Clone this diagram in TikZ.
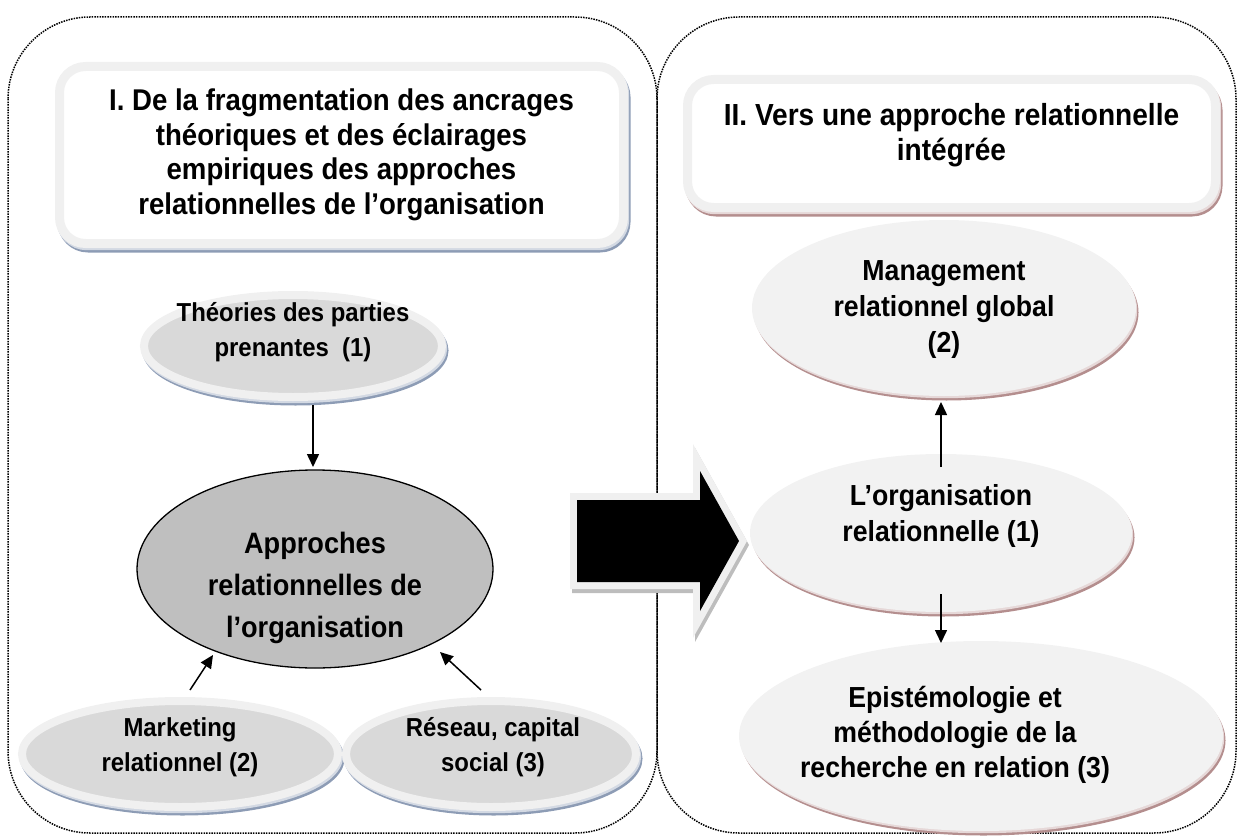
\documentclass[tikz,border=0pt]{standalone}
\usepackage{fontspec}
\setmainfont{Liberation Sans}[FakeStretch=0.92]
\usetikzlibrary{calc,arrows.meta,shapes.geometric}

\definecolor{rimgray}{HTML}{F0F0F0}
\definecolor{softgray}{HTML}{D9D9D9}
\definecolor{midgray}{HTML}{BFBFBF}
\definecolor{paleface}{HTML}{F2F2F2}
\definecolor{blueshade}{HTML}{8D9CB5}
\definecolor{bluelight}{HTML}{D3D9E3}
\definecolor{roseshade}{HTML}{B48E8E}
\definecolor{roselight}{HTML}{E6D8D8}
\definecolor{arrowshade}{HTML}{BDBDBD}

\tikzset{
  dotbox/.style={draw=black, line width=1.5pt, dash pattern=on 1.5pt off 1.1pt, rounded corners=82pt},
  bluedrop/.style={
    preaction={fill=blueshade, draw=blueshade, line width=#1, transform canvas={xshift=2.5pt,yshift=-4.5pt}},
    preaction={fill=bluelight, draw=bluelight, line width=#1, transform canvas={xshift=1.2pt,yshift=-2.2pt}}},
  rosedrop/.style={
    preaction={fill=roseshade, draw=roseshade, line width=#1, transform canvas={xshift=2.5pt,yshift=-4.5pt}},
    preaction={fill=roselight, draw=roselight, line width=#1, transform canvas={xshift=1.2pt,yshift=-2.2pt}}},
  leftblob/.style={ellipse, inner sep=0pt, outer sep=0pt, fill=softgray, draw=rimgray, line width=8pt, bluedrop=8pt},
  rightblob/.style={ellipse, inner sep=0pt, outer sep=0pt, fill=paleface, draw=paleface, line width=2pt, rosedrop=2pt},
  coreblob/.style={ellipse, inner sep=0pt, outer sep=0pt, fill=midgray, draw=black, line width=1.3pt},
  bluetitle/.style={rectangle, rounded corners=26pt, fill=white, draw=rimgray, line width=9pt, inner sep=0pt, bluedrop=9pt},
  rosetitle/.style={rectangle, rounded corners=26pt, fill=white, draw=rimgray, line width=9pt, inner sep=0pt, rosedrop=9pt},
  caption/.style 2 args={align=center, inner sep=0pt, font=\bfseries\fontsize{#1}{#2}\selectfont},
  arr/.style={-{Triangle[width=12pt,length=13pt]}, line width=1.5pt}
}

\begin{document}
\begin{tikzpicture}[x=1pt,y=-1pt]
\useasboundingbox (0,0) rectangle (1239,840);

% two dotted panels sharing the middle edge
\draw[dotbox] (8,17) rectangle (657,833);
\draw[dotbox] (657,17) rectangle (1236,833);

% panel headings
\node[bluetitle, minimum width=564pt, minimum height=177pt] (titleI) at (341.5,155) {};
\node[caption={30}{34.5}] (titleItxt) at (341.5,155)
  {I. De la fragmentation des ancrages\\théoriques et des éclairages\\empiriques des approches\\relationnelles de l’organisation};

\node[rosetitle, minimum width=528pt, minimum height=128pt] (titleII) at (951.5,143.5) {};
\node[caption={30.5}{35}] (titleIItxt) at (951.5,135)
  {II. Vers une approche relationnelle\\intégrée};

% left panel ellipses
\node[leftblob, minimum width=298pt, minimum height=102pt] (theo) at (293,346) {};
\node[coreblob, minimum width=356pt, minimum height=198pt] (appr) at (315,569) {};
\node[leftblob, minimum width=316pt, minimum height=106pt] (mkt) at (180,754) {};
\node[leftblob, minimum width=290pt, minimum height=106pt] (res) at (491,754) {};

% right panel ellipses
\node[rightblob, minimum width=382pt, minimum height=174pt] (mgmt) at (944,308) {};
\node[rightblob, minimum width=380pt, minimum height=156pt] (org) at (941,533) {};
\node[rightblob, minimum width=482pt, minimum height=188pt] (epist) at (981,736) {};

% block arrow from the first panel to the second
\path[preaction={fill=arrowshade, draw=arrowshade, line width=14pt, line join=miter, transform canvas={xshift=2pt,yshift=-4pt}},
      preaction={fill=rimgray, draw=rimgray, line width=14pt, line join=miter},
      fill=black]
  (577,500) -- (700,500) -- (700,471) -- (739,541) -- (700,611) -- (700,582) -- (577,582) -- cycle;

% connectors
\draw[arr] ($(theo.south)+(20,8)$) -- ($(appr.north)+(-2,-3)$);
\draw[arr] ($(mkt.north)+(10,-11)$) -- ($(appr.center)+(-102,86)$);
\draw[arr] ($(res.north)+(-10,-11)$) -- ($(appr.center)+(125,83)$);
\draw[arr] ($(org.north)+(0,12)$) -- ($(mgmt.south)+(-3,7)$);
\draw[arr] ($(org.south)+(0,-17)$) -- ($(epist.north)+(-40,1)$);

% texts
\node[caption={26}{35}] (theotxt) at (293,332) {Théories des parties\\prenantes\ \ (1)};
\node[caption={29.5}{42}] (apprtxt) at (315,588) {Approches\\relationnelles de\\l’organisation};
\node[caption={26}{35}] (mkttxt) at (180,747) {Marketing\\relationnel (2)};
\node[caption={26}{35}] (restxt) at (493,747) {Réseau, capital\\social (3)};
\node[caption={29}{36}] (mgmttxt) at (944,310) {Management\\relationnel global\\(2)};
\node[caption={29}{36}] (orgtxt) at (941,516) {L’organisation\\relationnelle (1)};
\node[caption={29}{35}] (epitxt) at (955,735) {Epistémologie et\\méthodologie de la\\recherche en relation (3)};
\end{tikzpicture}
\end{document}
